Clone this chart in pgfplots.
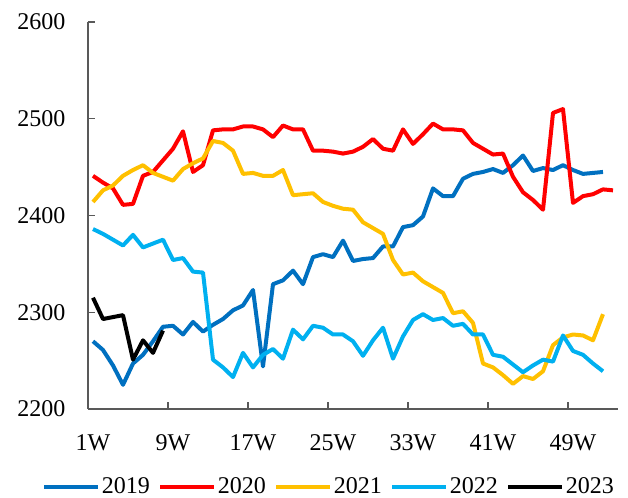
\documentclass[border=0pt]{standalone}
\usepackage{fontspec}
\setmainfont{Liberation Serif}
\usepackage{pgfplots}
\pgfplotsset{compat=1.18}
\usetikzlibrary{calc}
\definecolor{c19}{HTML}{0070C0}
\definecolor{c20}{HTML}{FF0000}
\definecolor{c21}{HTML}{FFC000}
\definecolor{c22}{HTML}{00B0F0}
\definecolor{axgray}{HTML}{595959}
\begin{document}
\begin{tikzpicture}
\begin{axis}[
  name=ax,
  scale only axis,
  width=397.5pt, height=290.25pt,
  xmin=0.5, xmax=53.5, ymin=2200, ymax=2600,
  axis x line*=bottom, axis y line*=left,
  axis line style={draw=axgray, line width=1.5pt},
  xtick={0.5,8.5,16.5,24.5,32.5,40.5,48.5},
  xticklabels={1W,9W,17W,25W,33W,41W,49W},
  x tick label style={xshift=3.75pt, yshift=-16pt},
  ytick={2200,2300,2400,2500,2600},
  y tick label style={xshift=-13.5pt},
  tick align=inside,
  major tick length=5pt,
  tick style={draw=axgray, line width=1pt},
  tick label style={font=\fontsize{18}{18}\selectfont, text=black},
  /pgf/number format/assume math mode=true,
  /pgf/number format/set thousands separator={},
  legend columns=5,
  legend style={at={(0.455,-0.2016)}, anchor=center, draw=none, fill=none,
    font=\fontsize{18}{18}\selectfont, nodes={inner sep=1.5pt},
    /tikz/every even column/.append style={column sep=5pt}},
  legend image code/.code={\draw[#1] (0pt,0pt) -- (40pt,0pt);},
  every axis plot/.append style={line width=3pt, line join=round, no markers},
]
\addplot[color=c19] coordinates {
(1,2270)(2,2261)(3,2245)(4,2225)(5,2247)(6,2256)(7,2270)(8,2285)(9,2286)(10,2277)
(11,2290)(12,2280)(13,2287)(14,2293)(15,2302)(16,2307)(17,2323)(18,2244)(19,2329)(20,2333)
(21,2343)(22,2329)(23,2357)(24,2360)(25,2357)(26,2374)(27,2353)(28,2355)(29,2356)(30,2368)
(31,2368)(32,2388)(33,2390)(34,2399)(35,2428)(36,2420)(37,2420)(38,2438)(39,2443)(40,2445)
(41,2448)(42,2444)(43,2452)(44,2462)(45,2446)(46,2449)(47,2447)(48,2452)(49,2447)(50,2443)
(51,2444)(52,2445)};
\addlegendentry{2019}
\addplot[color=c20] coordinates {
(1,2441)(2,2434)(3,2428)(4,2411)(5,2412)(6,2441)(7,2445)(8,2457)(9,2469)(10,2487)
(11,2445)(12,2452)(13,2488)(14,2489)(15,2489)(16,2492)(17,2492)(18,2489)(19,2481)(20,2493)
(21,2489)(22,2489)(23,2467)(24,2467)(25,2466)(26,2464)(27,2466)(28,2471)(29,2479)(30,2469)
(31,2467)(32,2489)(33,2474)(34,2484)(35,2495)(36,2489)(37,2489)(38,2488)(39,2475)(40,2469)
(41,2463)(42,2464)(43,2440)(44,2424)(45,2416)(46,2406)(47,2506)(48,2510)(49,2413)(50,2420)
(51,2422)(52,2427)(53,2426)};
\addlegendentry{2020}
\addplot[color=c21] coordinates {
(1,2414)(2,2426)(3,2431)(4,2441)(5,2447)(6,2452)(7,2444)(8,2440)(9,2436)(10,2448)
(11,2454)(12,2459)(13,2477)(14,2475)(15,2467)(16,2443)(17,2444)(18,2441)(19,2441)(20,2447)
(21,2421)(22,2422)(23,2423)(24,2414)(25,2410)(26,2407)(27,2406)(28,2393)(29,2387)(30,2381)
(31,2354)(32,2339)(33,2341)(34,2332)(35,2326)(36,2320)(37,2299)(38,2301)(39,2289)(40,2247)
(41,2243)(42,2235)(43,2226)(44,2234)(45,2231)(46,2239)(47,2266)(48,2274)(49,2277)(50,2276)
(51,2271)(52,2298)};
\addlegendentry{2021}
\addplot[color=c22] coordinates {
(1,2386)(2,2381)(3,2375)(4,2369)(5,2380)(6,2367)(7,2371)(8,2375)(9,2354)(10,2356)
(11,2342)(12,2341)(13,2251)(14,2243)(15,2233)(16,2258)(17,2243)(18,2256)(19,2262)(20,2252)
(21,2282)(22,2272)(23,2286)(24,2284)(25,2277)(26,2277)(27,2270)(28,2255)(29,2271)(30,2284)
(31,2252)(32,2275)(33,2292)(34,2298)(35,2292)(36,2294)(37,2286)(38,2288)(39,2277)(40,2277)
(41,2256)(42,2254)(43,2246)(44,2238)(45,2245)(46,2251)(47,2249)(48,2276)(49,2260)(50,2256)
(51,2247)(52,2239)};
\addlegendentry{2022}
\addplot[color=black] coordinates {
(1,2315)(2,2293)(3,2295)(4,2297)(5,2251)(6,2271)(7,2258)(8,2281)};
\addlegendentry{2023}
\end{axis}
\pgfresetboundingbox
\path[use as bounding box] ($(ax.south west)+(-66pt,-66.75pt)$) rectangle ($(ax.north east)+(7.5pt,16.5pt)$);
\end{tikzpicture}
\end{document}
